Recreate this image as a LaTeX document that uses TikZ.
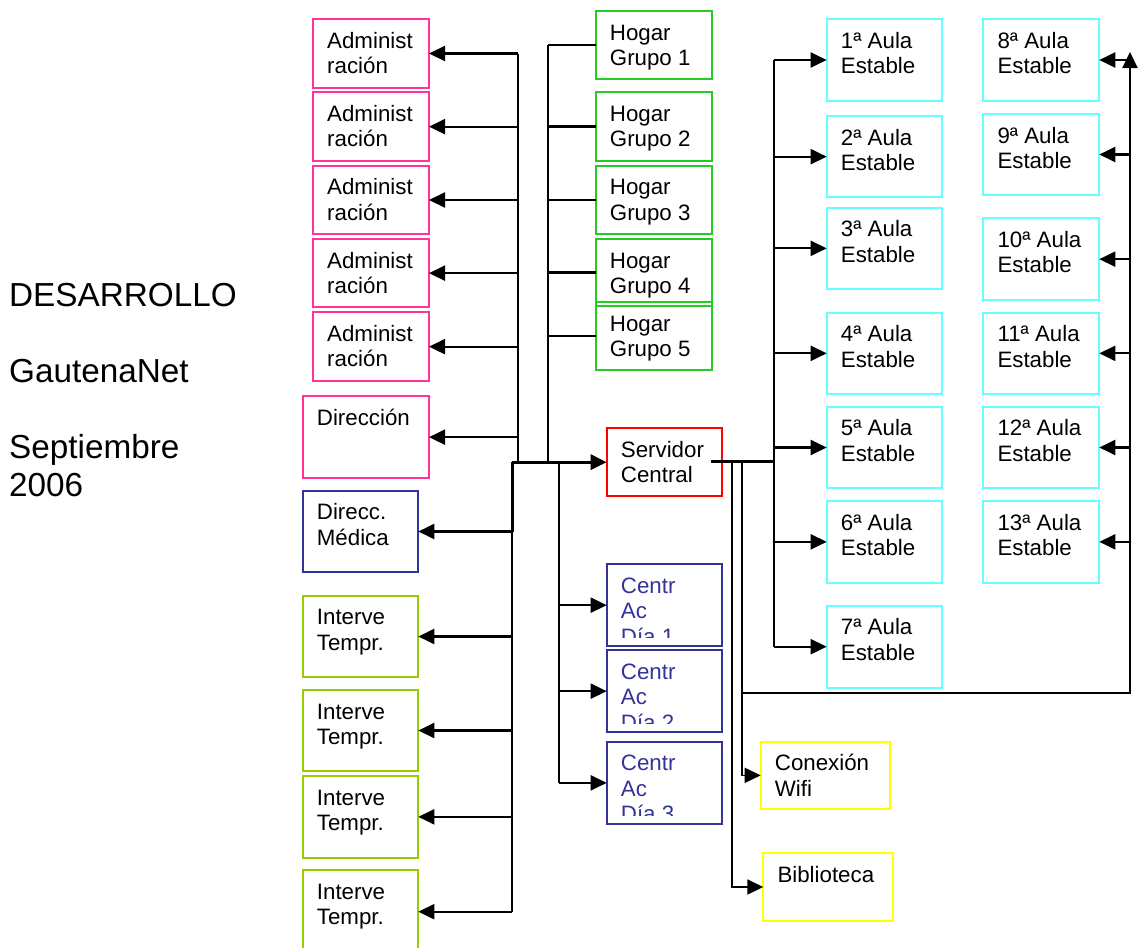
\documentclass[tikz,border=0pt]{standalone}
\usepackage{fontspec}
\setmainfont{Liberation Sans}
\usetikzlibrary{arrows.meta}
\definecolor{cpink}{HTML}{FF3399}
\definecolor{cgreen}{HTML}{22CC22}
\definecolor{colive}{HTML}{99CC00}
\definecolor{cblue}{HTML}{333399}
\definecolor{ccyan}{HTML}{66FFFF}
\definecolor{cyel}{HTML}{FFFF00}
\definecolor{cred}{HTML}{FF0000}
\tikzset{
  boxbase/.style={draw, line width=2pt, inner sep=0pt, outer sep=0pt, anchor=north west},
  txt/.style={anchor=base west, inner sep=0pt, font=\fontsize{22.3}{25.5}\selectfont},
  ln/.style={line width=2.1pt, black},
  thinln/.style={line width=1.7pt, black},
  busln/.style={line width=3pt, black},
  arr/.style={-{Triangle[length=16pt,width=15pt]}},
}
\newcommand\bxnode[7]{%
  \node[boxbase,#6,minimum width={#4-#2},minimum height={#5-#3}] (#1) at (#2,#3) {};
  \node[txt] (#1-t) at ([xshift=14pt,yshift=-29pt]#1.north west) {\begin{tabular}[t]{@{}l@{}}#7\end{tabular}};}
\newcommand\cabox[6]{%
  \node[boxbase,draw=cblue,minimum width={#4-#2},minimum height={#5-#3}] (#1) at (#2,#3) {};
  \begin{scope}
    \clip (#2,#3) rectangle (#4,#5-8.5);
    \node[txt,text=cblue] (#1-t) at ([xshift=14pt,yshift=-29pt]#1.north west) {\begin{tabular}[t]{@{}l@{}}Centr\\Ac\\Día #6\end{tabular}};
  \end{scope}}
\begin{document}
\begin{tikzpicture}[x=1pt,y=-1pt]
\useasboundingbox (0,0) rectangle (1141,948);
\fill[white] (0,0) rectangle (1141,948);

% title
\node[anchor=base west, inner sep=0pt, font=\fontsize{33.3}{38}\selectfont] (title) at (9,306.7)
  {\begin{tabular}[t]{@{}l@{}}DESARROLLO\\ \\GautenaNet\\ \\Septiembre\\2006\end{tabular}};

% left column
\bxnode{adm1}{313}{19}{429}{88}{draw=cpink}{Administ\\ración}
\bxnode{adm2}{313}{92.3}{429}{161}{draw=cpink}{Administ\\ración}
\bxnode{adm3}{313}{165.7}{429}{234.3}{draw=cpink}{Administ\\ración}
\bxnode{adm4}{313}{239}{429}{307.3}{draw=cpink}{Administ\\ración}
\bxnode{adm5}{313}{312.3}{429}{381}{draw=cpink}{Administ\\ración}
\bxnode{dir}{302.7}{396}{429}{478.3}{draw=cpink}{Dirección}
\bxnode{med}{302.7}{490.7}{418.3}{572.3}{draw=cblue}{Direcc.\\Médica}
\bxnode{int1}{302.7}{595.7}{418.3}{677.3}{draw=colive}{Interve\\Tempr.}
\bxnode{int2}{302.7}{690}{418.3}{771}{draw=colive}{Interve\\Tempr.}
\bxnode{int3}{302.7}{776}{418.3}{857.7}{draw=colive}{Interve\\Tempr.}
\bxnode{int4}{302.7}{870}{418.3}{953.4}{draw=colive}{Interve\\Tempr.}

% hogar
\bxnode{hog1}{595.7}{11}{711.7}{79.3}{draw=cgreen}{Hogar\\Grupo 1}
\bxnode{hog2}{595.7}{92.3}{711.7}{160.7}{draw=cgreen}{Hogar\\Grupo 2}
\bxnode{hog3}{595.7}{165.7}{711.7}{234}{draw=cgreen}{Hogar\\Grupo 3}
\bxnode{hog4}{595.7}{239}{711.7}{306}{draw=cgreen}{Hogar\\Grupo 4}
\bxnode{hog5}{595.7}{302.3}{711.7}{370}{draw=cgreen}{Hogar\\Grupo 5}

% server and centres
\bxnode{srv}{606.7}{428.3}{722.3}{496}{draw=cred}{Servidor\\Central}
\cabox{ca1}{606.7}{564.3}{722.3}{646}{1}
\cabox{ca2}{606.7}{650}{722.3}{732.3}{2}
\cabox{ca3}{606.7}{741.7}{722.3}{824}{3}
\bxnode{wifi}{760.7}{741.7}{890}{809}{draw=cyel}{Conexión\\Wifi}
\bxnode{bib}{763.3}{853.3}{892.7}{920.7}{draw=cyel}{Biblioteca}

% aulas
\bxnode{au1}{826.7}{19.3}{942.3}{100.7}{draw=ccyan}{1ª Aula\\Estable}
\bxnode{au2}{826.7}{116}{942.3}{197.3}{draw=ccyan}{2ª Aula\\Estable}
\bxnode{au3}{826.7}{207.7}{942.3}{289}{draw=ccyan}{3ª Aula\\Estable}
\bxnode{au4}{826.7}{312.7}{942.3}{394}{draw=ccyan}{4ª Aula\\Estable}
\bxnode{au5}{826.7}{406.7}{942.3}{488.3}{draw=ccyan}{5ª Aula\\Estable}
\bxnode{au6}{826.7}{501}{942.3}{582.7}{draw=ccyan}{6ª Aula\\Estable}
\bxnode{au7}{826.7}{605.7}{942.3}{687.7}{draw=ccyan}{7ª Aula\\Estable}
\bxnode{au8}{983.3}{19.3}{1099.3}{100.7}{draw=ccyan}{8ª Aula\\Estable}
\bxnode{au9}{983.3}{114}{1099.3}{195}{draw=ccyan}{9ª Aula\\Estable}
\bxnode{au10}{983.3}{218.3}{1099.3}{300}{draw=ccyan}{10ª Aula\\Estable}
\bxnode{au11}{983.3}{312.7}{1099.3}{394}{draw=ccyan}{11ª Aula\\Estable}
\bxnode{au12}{983.3}{406.7}{1099.3}{488.3}{draw=ccyan}{12ª Aula\\Estable}
\bxnode{au13}{983.3}{501}{1099.3}{582.7}{draw=ccyan}{13ª Aula\\Estable}

% bus reference coordinates
\coordinate (aBus) at (517.7,0);
\coordinate (hBus) at (548.3,0);
\coordinate (lBus) at (512.3,0);
\coordinate (cBus) at (558.7,0);
\coordinate (sOut) at (710.7,461.7);
\coordinate (auBus) at (774.3,0);
\coordinate (bBus) at (732.3,0);
\coordinate (wBus) at (741.7,0);
\coordinate (loopC) at (741.7,692.7);
\coordinate (rBus) at (1130,692.7);
\coordinate (rTop) at (1130,52);

% administration bus
\draw[ln] (aBus |- adm1.east) -- (aBus |- srv.west);
\foreach \n in {adm1,adm2,adm3,adm4,adm5,dir}
  \draw[ln,arr] (aBus |- \n.east) -- (\n.east);
% hogar bus
\draw[ln] (hBus |- hog1.west) -- (hBus |- srv.west);
\foreach \n in {hog1,hog2,hog3,hog4,hog5}
  \draw[ln] (hBus |- \n.west) -- (\n.west);
% main bus to server
\draw[busln,arr] (lBus |- srv.west) -- (srv.west);
% left lower bus
\draw[busln] (lBus |- srv.west) -- (lBus |- med.east);
\draw[ln] (lBus |- med.east) -- (lBus |- int4.east);
\foreach \n in {med,int1,int2,int3,int4}
  \draw[ln,arr] (lBus |- \n.east) -- (\n.east);
% centres bus
\draw[ln] (cBus |- srv.west) -- (cBus |- ca3.west);
\foreach \n in {ca1,ca2,ca3}
  \draw[ln,arr] (cBus |- \n.west) -- (\n.west);
% server out to aulas
\draw[busln] (sOut) -- (auBus |- sOut);
\draw[ln] (auBus |- au1.west) -- (auBus |- au7.west);
\foreach \n in {au1,au2,au3,au4,au5,au6,au7}
  \draw[ln,arr] (auBus |- \n.west) -- (\n.west);
% biblioteca and wifi
\draw[thinln,arr] (bBus |- sOut) -- (bBus |- bib.west) -- (bib.west);
\draw[thinln,arr] (wBus |- sOut) -- (wBus |- wifi.west) -- (wifi.west);
% loop to right column
\draw[ln,arr] (loopC) -- (rBus) -- (rTop);
\foreach \n in {au8,au9,au10,au11,au12,au13}
  \draw[ln,arr] (rBus |- \n.east) -- (\n.east);
\end{tikzpicture}
\end{document}
